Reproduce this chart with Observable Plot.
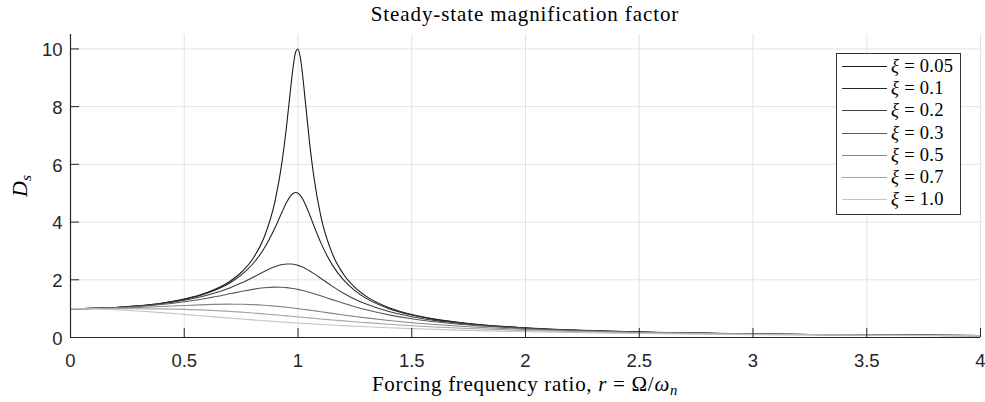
<!DOCTYPE html>
<html><head><meta charset="utf-8">
<script src="https://cdn.jsdelivr.net/npm/d3@7"></script>
<script src="https://cdn.jsdelivr.net/npm/@observablehq/plot@0.6"></script>
<style>
body{margin:0;background:#fff;}
#wrap{position:relative;width:985px;height:402px;overflow:hidden;background:#fff;}
.serif{font-family:"Liberation Serif","Times New Roman",serif;color:#000;position:absolute;white-space:nowrap;line-height:1;}
#title{left:70px;width:910px;text-align:center;top:4px;font-size:21px;letter-spacing:0.9px;}
#xlabel{left:70px;width:910px;text-align:center;top:374px;font-size:21px;letter-spacing:0.7px;}
#ylabel{left:20px;top:186px;font-size:22px;transform:translate(-50%,-50%) rotate(-90deg);}
sub{font-size:70%;vertical-align:-0.25em;line-height:0;}
#legend{position:absolute;left:836px;top:53px;width:123px;height:159px;border:1px solid #333;background:#fff;padding-top:1px;box-sizing:content-box;}
.row{display:flex;align-items:center;height:22.3px;font-family:"Liberation Serif",serif;font-size:18.5px;letter-spacing:0.3px;}
.swatch{width:45px;margin-left:5px;margin-right:4px;height:0;border-top:1px solid;}
</style></head>
<body>
<div id="wrap">
  <div id="chart"></div>
  <div id="title" class="serif">Steady-state magnification factor</div>
  <div id="xlabel" class="serif">Forcing frequency ratio, <i>r</i> = Ω/<i>ω</i><sub><i>n</i></sub></div>
  <div id="ylabel" class="serif"><i>D</i><sub><i>s</i></sub></div>
  <div id="legend"></div>
</div>
<script>
// Frequency ratio samples r
const rValues = [0, 0.1, 0.2, 0.3, 0.4, 0.5, 0.6, 0.7, 0.75, 0.8, 0.85, 0.9, 0.93, 0.95, 0.97, 0.98, 0.99, 1.0, 1.01, 1.02, 1.03, 1.05, 1.07, 1.1, 1.15, 1.2, 1.25, 1.3, 1.4, 1.5, 1.6, 1.75, 2.0, 2.5, 3.0, 3.5, 4.0];

// Damping ratio labels and colours
const xiLabels = ["0.05", "0.1", "0.2", "0.3", "0.5", "0.7", "1.0"];
const lineColors = ["#1a1a1a", "#262626", "#3d3d3d", "#5a5a5a", "#858585", "#a5a5a5", "#c4c4c4"];

// Magnification factor D_s for each damping ratio
const D_005 = [1, 1.010, 1.041, 1.098, 1.189, 1.330, 1.556, 1.943, 2.253, 2.712, 3.446, 4.757, 6.097, 7.346, 8.804, 9.461, 9.903, 10.0, 9.711, 9.115, 8.357, 6.815, 5.552, 4.218, 2.921, 2.193, 1.735, 1.424, 1.031, 0.794, 0.638, 0.483, 0.333, 0.190, 0.125, 0.089, 0.067];
const D_01  = [1, 1.010, 1.041, 1.097, 1.185, 1.322, 1.536, 1.891, 2.162, 2.538, 3.073, 3.821, 4.350, 4.683, 4.931, 5.001, 5.025, 5.0, 4.926, 4.809, 4.655, 4.279, 3.869, 3.288, 2.525, 1.995, 1.625, 1.356, 1.0, 0.778, 0.628, 0.478, 0.330, 0.190, 0.125, 0.089, 0.067];
const D_02  = [1, 1.009, 1.038, 1.090, 1.170, 1.288, 1.463, 1.719, 1.885, 2.076, 2.279, 2.457, 2.527, 2.549, 2.548, 2.538, 2.522, 2.5, 2.472, 2.439, 2.401, 2.313, 2.213, 2.051, 1.780, 1.536, 1.329, 1.157, 0.900, 0.721, 0.593, 0.459, 0.322, 0.187, 0.124, 0.088, 0.066];
const D_03  = [1, 1.008, 1.034, 1.078, 1.145, 1.238, 1.362, 1.514, 1.593, 1.667, 1.722, 1.747, 1.742, 1.729, 1.709, 1.697, 1.683, 1.667, 1.649, 1.630, 1.610, 1.567, 1.519, 1.444, 1.313, 1.185, 1.067, 0.960, 0.784, 0.649, 0.546, 0.432, 0.310, 0.183, 0.122, 0.087, 0.066];
const D_05  = [1, 1.005, 1.020, 1.044, 1.075, 1.109, 1.140, 1.155, 1.152, 1.140, 1.118, 1.087, 1.064, 1.047, 1.029, 1.020, 1.010, 1.0, 0.990, 0.980, 0.969, 0.948, 0.926, 0.893, 0.837, 0.782, 0.730, 0.680, 0.589, 0.512, 0.448, 0.370, 0.277, 0.172, 0.117, 0.085, 0.064];
const D_07  = [1, 1.000, 1.000, 0.998, 0.991, 0.975, 0.947, 0.905, 0.879, 0.850, 0.818, 0.785, 0.764, 0.750, 0.736, 0.729, 0.721, 0.714, 0.707, 0.700, 0.693, 0.679, 0.665, 0.643, 0.609, 0.576, 0.544, 0.514, 0.458, 0.409, 0.366, 0.312, 0.244, 0.159, 0.111, 0.082, 0.063];
const D_10  = [1, 0.990, 0.962, 0.917, 0.862, 0.800, 0.735, 0.671, 0.640, 0.610, 0.581, 0.553, 0.536, 0.526, 0.515, 0.510, 0.505, 0.5, 0.495, 0.490, 0.485, 0.476, 0.466, 0.453, 0.431, 0.410, 0.390, 0.372, 0.338, 0.308, 0.281, 0.246, 0.2, 0.138, 0.1, 0.076, 0.059];

// Axis ticks
const xTicks = [0, 0.5, 1, 1.5, 2, 2.5, 3, 3.5, 4];
const yTicks = [0, 2, 4, 6, 8, 10];

const series = [D_005, D_01, D_02, D_03, D_05, D_07, D_10];
const rows = [];
series.forEach((vals, i) => {
  vals.forEach((v, j) => rows.push({xi: xiLabels[i], r: rValues[j], D: v}));
});

const axisColor = "#262626";
const chart = Plot.plot({
  width: 985,
  height: 402,
  marginLeft: 70,
  marginRight: 5,
  marginTop: 34,
  marginBottom: 65,
  x: {domain: [0, 4], label: null},
  y: {domain: [0, 10.5], label: null},
  color: {domain: xiLabels, range: lineColors},
  style: {fontFamily: "'Liberation Sans', Arial, sans-serif", fontSize: "18.5px", color: axisColor, background: "#fff", overflow: "visible"},
  marks: [
    Plot.gridX(xTicks, {stroke: "#e3e3e3", strokeOpacity: 1}),
    Plot.gridY(yTicks, {stroke: "#e3e3e3", strokeOpacity: 1}),
    Plot.line(rows, {x: "r", y: "D", z: "xi", stroke: "xi", strokeWidth: 1.1, curve: "monotone-x"}),
    Plot.axisX(xTicks, {tickSize: 9, dy: -9, tickFormat: () => "", label: null, stroke: axisColor}),
    Plot.axisY(yTicks, {tickSize: 9, dx: 9, tickFormat: () => "", label: null, stroke: axisColor}),
    Plot.axisX(xTicks, {tickSize: 0, tickPadding: 16, tickFormat: d => String(d), label: null, fill: axisColor}),
    Plot.axisY(yTicks, {tickSize: 0, tickPadding: 8, dy: 1.5, tickFormat: d => String(d), label: null, fill: axisColor}),
    Plot.ruleX([0], {stroke: axisColor, strokeWidth: 1.2}),
    Plot.ruleY([0], {stroke: axisColor, strokeWidth: 1.2})
  ]
});
document.getElementById("chart").appendChild(chart);

// Legend
const legend = document.getElementById("legend");
xiLabels.forEach((lab, i) => {
  const row = document.createElement("div");
  row.className = "row";
  const sw = document.createElement("div");
  sw.className = "swatch";
  sw.style.borderTopColor = lineColors[i];
  const tx = document.createElement("span");
  tx.innerHTML = "<i>ξ</i> = " + lab;
  row.appendChild(sw);
  row.appendChild(tx);
  legend.appendChild(row);
});
</script>
</body></html>
